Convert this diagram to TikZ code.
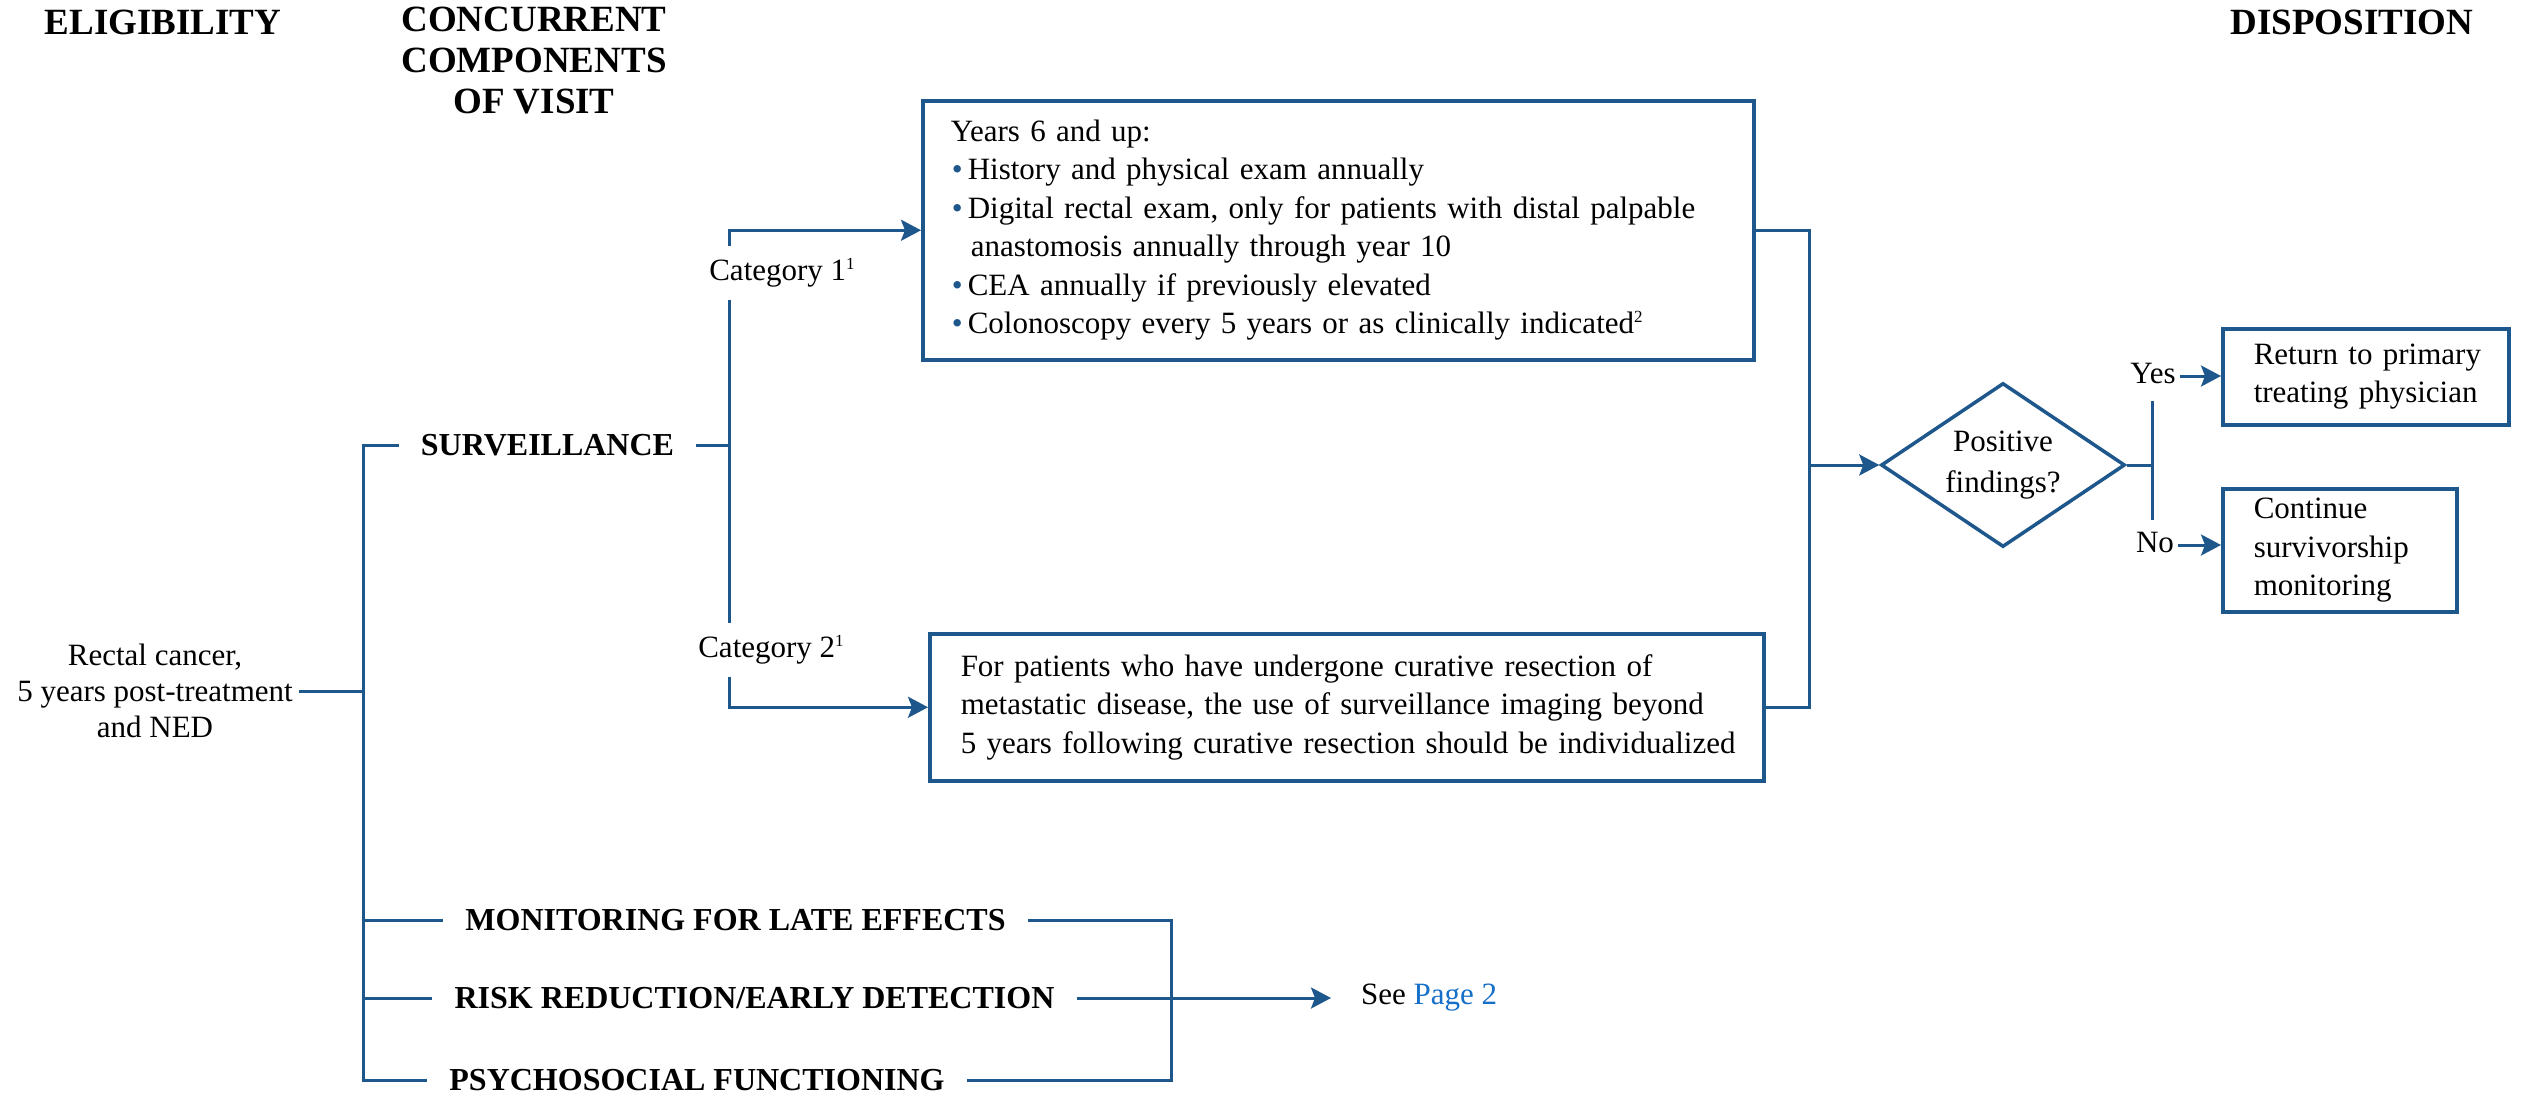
\documentclass[tikz,border=0pt]{standalone}
\usepackage{fontspec}
\setmainfont{Liberation Serif}
\usetikzlibrary{shapes.geometric,arrows.meta}
\definecolor{nblue}{RGB}{30,87,139}
\definecolor{lnk}{RGB}{22,111,200}
\newcommand{\bul}{\makebox[17pt][l]{\hspace{1pt}\textcolor{nblue}{•}}}
\newcommand{\supnum}[1]{\raisebox{11pt}{\fontsize{17}{17}\selectfont #1}}
\begin{document}
\begin{tikzpicture}[x=1pt,y=-1pt,
  every node/.style={font=\fontsize{31}{38.5}\selectfont},
  hdr/.style={font=\bfseries\fontsize{37}{41}\selectfont, align=center, inner sep=0pt},
  sub/.style={font=\bfseries\fontsize{32}{38}\selectfont, inner xsep=22pt, inner ysep=0pt, text height=21pt, text depth=0pt},
  box/.style={draw=nblue, line width=3.5pt, rectangle, align=left, anchor=north west},
  conn/.style={draw=nblue, line width=3pt},
  arr/.style={conn, -{Stealth[length=20pt,width=21pt,inset=4pt]}},
  lbl/.style={text height=22pt, text depth=7pt, inner ysep=12pt, inner xsep=4pt}
]
\path[fill=white] (0,0) rectangle (2524,1095);
\useasboundingbox (0,0) rectangle (2524,1095);

% headers
\node[hdr] (h1) at (163,22) {ELIGIBILITY};
\node[hdr] (h2) at (534,61) {CONCURRENT\\COMPONENTS\\OF VISIT};
\node[hdr] (h3) at (2352,22) {DISPOSITION};

% eligibility
\node[align=center, inner xsep=6pt, font=\fontsize{31}{36}\selectfont] (ec) at (155,691) {Rectal cancer,\\5 years post-treatment\\and NED};

% components
\node[sub] (surv) at (547.5,445) {SURVEILLANCE};
\node[sub] (mon) at (735.5,920) {MONITORING FOR LATE EFFECTS};
\node[sub] (risk) at (754.5,998) {RISK REDUCTION/EARLY DETECTION};
\node[sub] (psy) at (697,1080) {PSYCHOSOCIAL FUNCTIONING};

% categories
\node[lbl] (c1) at (782,273) {Category 1\supnum{1}};
\node[lbl] (c2) at (771,650) {Category 2\supnum{1}};

% boxes
\node[box, minimum height=259pt, text width=775pt, inner xsep=28pt] (top) at (921,99) {%
\mbox{Years 6 and up:}\\
\mbox{\bul History and physical exam annually}\\
\mbox{\bul Digital rectal exam, only for patients with distal palpable}\\
\mbox{\hspace*{20pt}anastomosis annually through year 10}\\
\mbox{\bul CEA annually if previously elevated}\\
\mbox{\bul Colonoscopy every 5 years or as clinically indicated\supnum{2}}};
\node[box, minimum height=147pt, text width=772pt, inner xsep=31pt] (bot) at (928,632) {%
\mbox{For patients who have undergone curative resection of}\\
\mbox{metastatic disease, the use of surveillance imaging beyond}\\
\mbox{5 years following curative resection should be individualized}};

\node[draw=nblue, line width=3.5pt, diamond, aspect=1.49, minimum width=244pt, minimum height=164pt, inner sep=0pt, align=center, font=\fontsize{31}{41}\selectfont] (dia) at (2003,465) {Positive\\findings?};

\node[lbl, inner ysep=10pt] (yes) at (2153,376) {Yes};
\node[lbl, inner ysep=10pt] (no) at (2155,545) {No};

\node[box, minimum height=96pt, text width=224pt, inner xsep=31pt] (ret) at (2221,327) {\mbox{Return to primary}\\\mbox{treating physician}};
\node[box, minimum height=123pt, text width=172pt, inner xsep=31pt] (cont) at (2221,487) {\mbox{Continue}\\\mbox{survivorship}\\\mbox{monitoring}};

\node[anchor=west, inner xsep=30pt] (see) at (1331,998) {See \textcolor{lnk}{Page 2}};

% junction coordinates
\coordinate (bus) at (363,445);
\coordinate (cb) at (729,228);
\coordinate (rb) at (1809,228);
\coordinate (lb) at (1171,922);
\coordinate (dj) at (2152,465);

% connectors
\draw[conn] (ec.east) -- (ec.east -| bus);
\draw[conn] (surv.west) -| (psy.west -| bus) -- (psy.west);
\draw[conn] (mon.west -| bus) -- (mon.west);
\draw[conn] (risk.west -| bus) -- (risk.west);
\draw[conn] (surv.east) -- (surv.east -| cb);
\draw[arr] (c1.north -| cb) -- (top.west -| cb) -- (top.west);
\draw[conn] (c1.south -| cb) -- (c2.north -| cb);
\draw[arr] (c2.south -| cb) -- (bot.west -| cb) -- (bot.west);
\draw[conn] (top.east) -- (top.east -| rb) -- (bot.east -| rb) -- (bot.east);
\draw[arr] (dia.west -| rb) -- (dia.west);
\draw[conn] (dia.east) -- (dj);
\draw[conn] (yes.south -| dj) -- (no.north -| dj);
\draw[arr] (yes.east) -- (yes.east -| ret.west);
\draw[arr] (no.east) -- (no.east -| cont.west);
\draw[conn] (mon.east) -- (mon.east -| lb) -- (psy.east -| lb) -- (psy.east);
\draw[arr] (risk.east) -- (see.west);
\end{tikzpicture}
\end{document}
